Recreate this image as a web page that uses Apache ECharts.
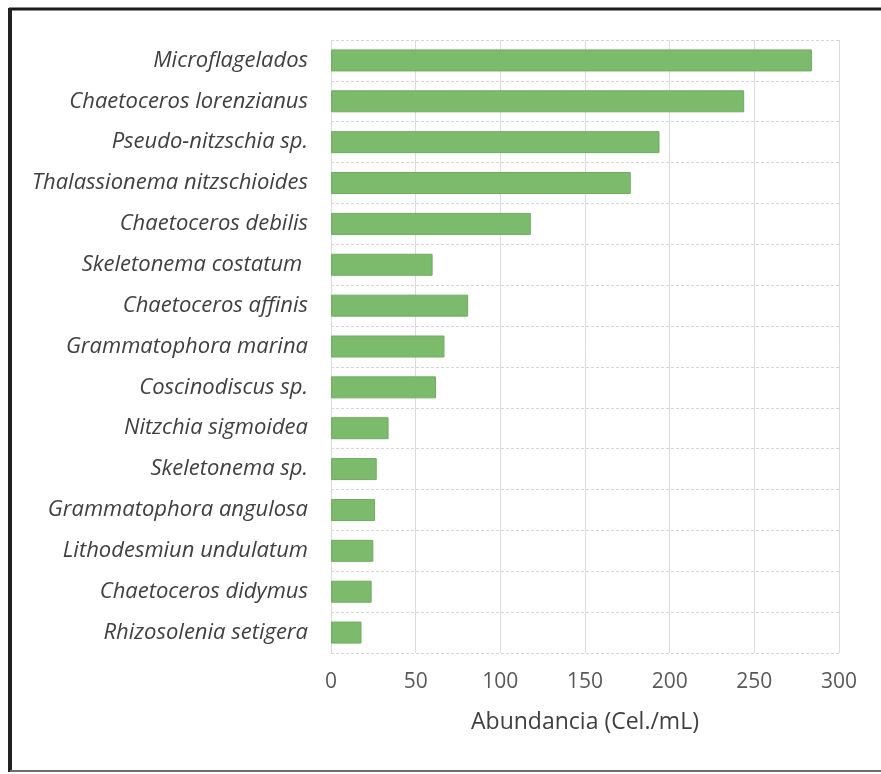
<!DOCTYPE html>
<html>
<head>
<meta charset="utf-8">
<script src="https://cdn.jsdelivr.net/npm/echarts@6/dist/echarts.min.js"></script>
<style>
html,body{margin:0;padding:0;background:#fff;}
#chart{width:881px;height:774px;}
</style>
</head>
<body>
<div id="chart"></div>
<script>
var categories = [
  "Microflagelados",
  "Chaetoceros lorenzianus",
  "Pseudo-nitzschia sp.",
  "Thalassionema nitzschioides",
  "Chaetoceros debilis",
  "Skeletonema costatum ",
  "Chaetoceros affinis",
  "Grammatophora marina",
  "Coscinodiscus sp.",
  "Nitzchia sigmoidea",
  "Skeletonema sp.",
  "Grammatophora angulosa",
  "Lithodesmiun undulatum",
  "Chaetoceros didymus",
  "Rhizosolenia setigera"
];
var abundance = [284, 244, 194, 177, 118, 60, 81, 67, 62, 34, 27, 26, 25, 24, 18];
var xTicks = [0, 50, 100, 150, 200, 250, 300];
var axisTitle = "Abundancia (Cel./mL)";

var chart = echarts.init(document.getElementById('chart'), null, {renderer: 'canvas'});
chart.setOption({
  backgroundColor: '#ffffff',
  animation: false,
  grid: {left: 331, right: 42, top: 40, bottom: 121, containLabel: false},
  graphic: [
    {type: 'line', shape: {x1: 9, y1: 9, x2: 881, y2: 9}, style: {stroke: '#1a1a1a', lineWidth: 3}},
    {type: 'line', shape: {x1: 10, y1: 8, x2: 10, y2: 772}, style: {stroke: '#222222', lineWidth: 4}},
    {type: 'line', shape: {x1: 10, y1: 771, x2: 881, y2: 771}, style: {stroke: '#6e6e6e', lineWidth: 2}}
  ],
  xAxis: {
    type: 'value',
    min: xTicks[0],
    max: xTicks[xTicks.length - 1],
    interval: xTicks[1] - xTicks[0],
    name: axisTitle,
    nameLocation: 'middle',
    nameGap: 58,
    nameTextStyle: {fontFamily: 'Open Sans', fontSize: 23, color: '#404040'},
    axisLine: {show: false},
    axisTick: {show: false},
    axisLabel: {margin: 19, fontFamily: 'Open Sans', fontSize: 21, color: '#595959'},
    splitLine: {show: true, lineStyle: {color: '#dcdcdc', width: 1}}
  },
  yAxis: {
    type: 'category',
    data: categories,
    inverse: true,
    axisLine: {show: false},
    axisTick: {show: false},
    axisLabel: {margin: 23, fontFamily: 'Open Sans', fontStyle: 'italic', fontSize: 22, color: '#404040'},
    splitLine: {show: true, lineStyle: {color: '#d6d6d6', width: 1, type: [3, 2]}}
  },
  series: [{
    type: 'bar',
    data: abundance,
    barWidth: 22,
    itemStyle: {color: '#7dbb6c', borderColor: '#6eac5e', borderWidth: 1}
  }]
});
</script>
</body>
</html>
